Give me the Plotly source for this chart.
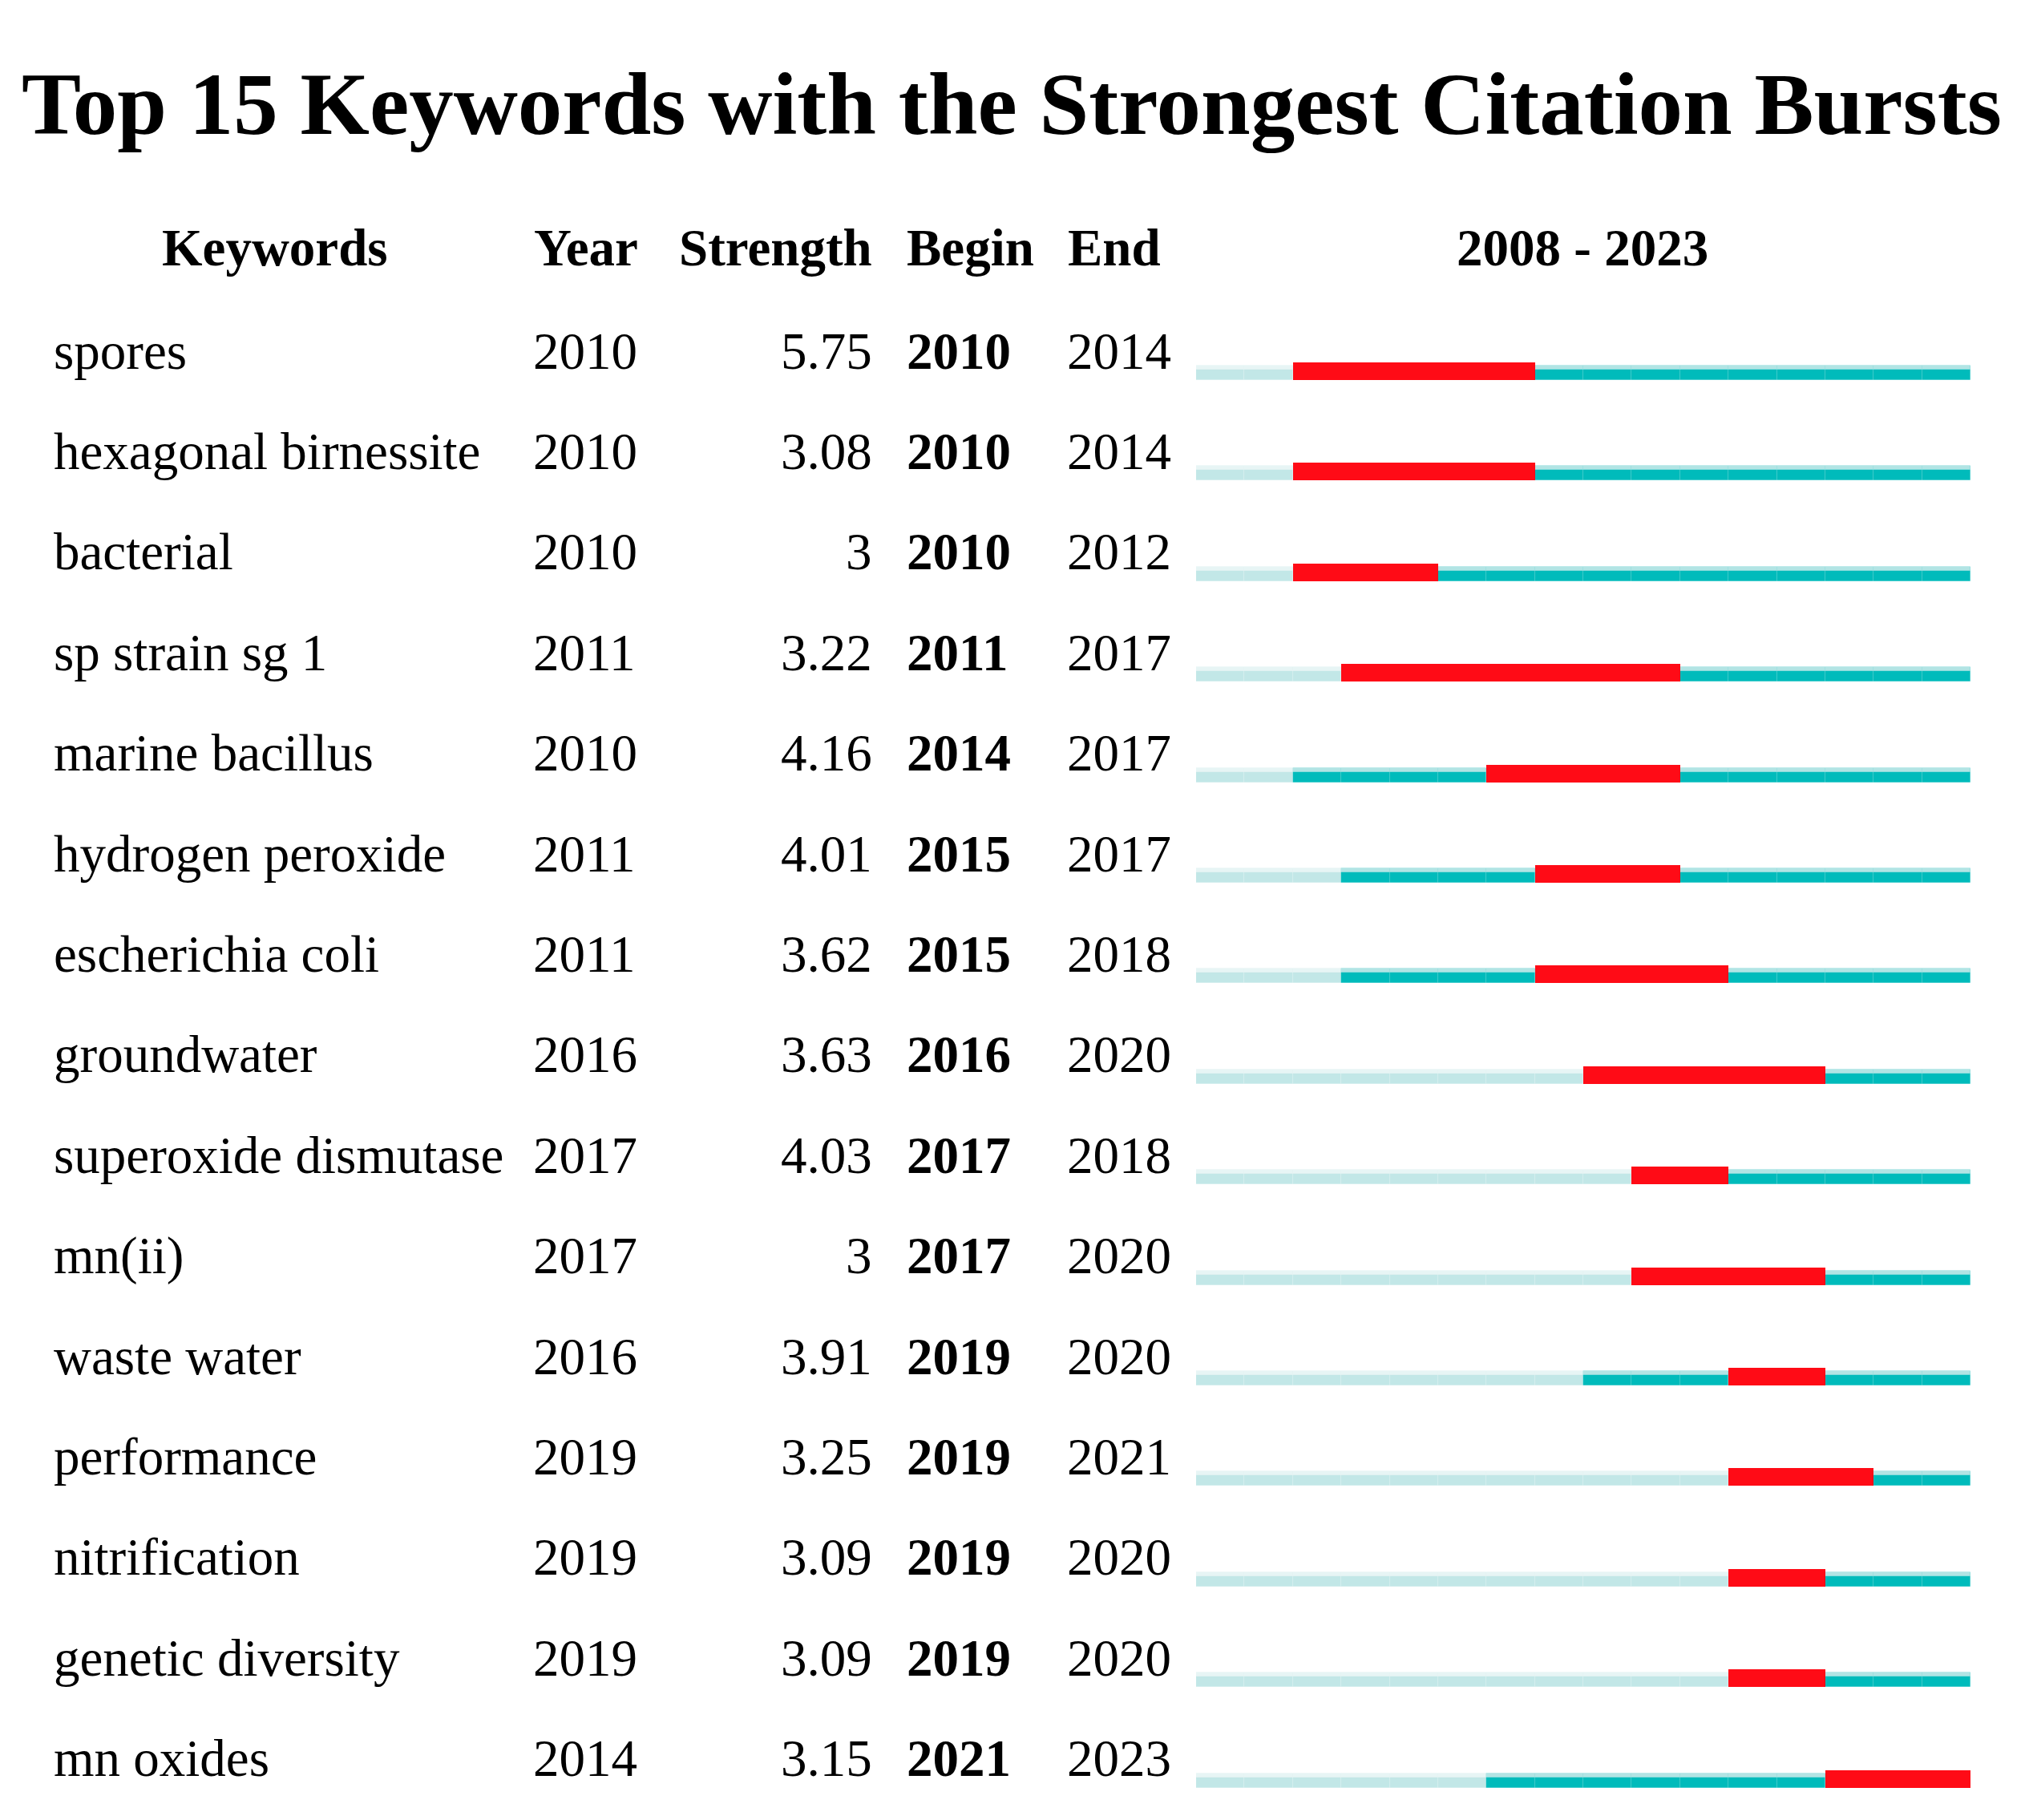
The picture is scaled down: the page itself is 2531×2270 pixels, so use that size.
import plotly.graph_objects as go

keywords = ["spores", "hexagonal birnessite", "bacterial", "sp strain sg 1", "marine bacillus",
            "hydrogen peroxide", "escherichia coli", "groundwater", "superoxide dismutase", "mn(ii)",
            "waste water", "performance", "nitrification", "genetic diversity", "mn oxides"]
years = [2010, 2010, 2010, 2011, 2010, 2011, 2011, 2016, 2017, 2017, 2016, 2019, 2019, 2019, 2014]
strengths = ["5.75", "3.08", "3", "3.22", "4.16", "4.01", "3.62", "3.63", "4.03", "3", "3.91", "3.25", "3.09", "3.09", "3.15"]
begins = [2010, 2010, 2010, 2011, 2014, 2015, 2015, 2016, 2017, 2017, 2019, 2019, 2019, 2019, 2021]
ends = [2014, 2014, 2012, 2017, 2017, 2017, 2018, 2020, 2018, 2020, 2020, 2021, 2020, 2020, 2023]
start_year, end_year = 2008, 2023
title_text = "Top 15 Keywords with the Strongest Citation Bursts"
headers = ["Keywords", "Year", "Strength", "Begin", "End"]

W, H = 2531, 2270
ROW0, ROWH = 437.5, 125.4  # pixel centre of first text row, row pitch
FONT = "Liberation Serif, Times New Roman, serif"
FS = 65

def px(x):
    return x / W

def ypx(p):
    return (p - ROW0) / ROWH

# classify each year-cell
cells = {"pale": [], "teal": [], "red": []}
for i in range(len(keywords)):
    for yr in range(start_year, end_year + 1):
        if begins[i] <= yr <= ends[i]:
            cells["red"].append((i, yr))
        elif yr < years[i]:
            cells["pale"].append((i, yr))
        else:
            cells["teal"].append((i, yr))

fig = go.Figure()

def add_cells(key, color, off, width, line_col, lw=0.6):
    pts = cells[key]
    fig.add_trace(go.Bar(
        orientation="h",
        y=[p[0] + off for p in pts],
        base=[p[1] for p in pts],
        x=[1] * len(pts),
        width=width,
        marker=dict(color=color, line=dict(color=line_col, width=lw)),
        hoverinfo="skip",
        showlegend=False,
    ))

# main bodies
add_cells("pale", "#c2e7e7", (465 - ROW0) / ROWH, 18 / ROWH, "rgba(255,255,255,0.18)")
add_cells("teal", "#00bbbb", (465 - ROW0) / ROWH, 18 / ROWH, "rgba(255,255,255,0.08)")
# lighter top strips
add_cells("pale", "#e7f5f5", (458.5 - ROW0) / ROWH, 5 / ROWH, "rgba(255,255,255,0.15)")
add_cells("teal", "#b2e4e4", (458.5 - ROW0) / ROWH, 5 / ROWH, "rgba(255,255,255,0.08)")
# burst
add_cells("red", "#ff0b16", (463 - ROW0) / ROWH, 22 / ROWH, "#ff0b16", lw=0)

annotations = []

def txt(text, x, yval, anchor="left", bold=False, size=FS, yref="y"):
    annotations.append(dict(
        text=f"<b>{text}</b>" if bold else text,
        x=px(x), xref="paper", y=yval, yref=yref,
        xanchor=anchor, yanchor="middle", showarrow=False,
        font=dict(family=FONT, size=size, color="black"),
    ))

for i in range(len(keywords)):
    yv = i
    txt(keywords[i], 65, yv)
    txt(str(years[i]), 663, yv)
    txt(strengths[i], 1090, yv, anchor="right")
    txt(str(begins[i]), 1129, yv, bold=True)
    txt(str(ends[i]), 1329, yv)

hy = ypx(309)
txt(headers[0], 343, hy, anchor="center", bold=True)
txt(headers[1], 664, hy, bold=True)
txt(headers[2], 1090, hy, anchor="right", bold=True)
txt(headers[3], 1129, hy, bold=True)
txt(headers[4], 1330, hy, bold=True)
txt(f"{start_year} - {end_year}", 1974, hy, anchor="center", bold=True)

txt(title_text, 1262, ypx(129), anchor="center", bold=True, size=111)

fig.update_layout(
    width=W, height=H,
    margin=dict(l=0, r=0, t=0, b=0),
    paper_bgcolor="white", plot_bgcolor="white",
    barmode="overlay",
    bargap=0,
    xaxis=dict(domain=[px(1492), px(2458)], range=[start_year, end_year + 1],
               visible=False, fixedrange=True),
    yaxis=dict(domain=[0, 1], range=[ypx(H), ypx(0)], visible=False, fixedrange=True),
    annotations=annotations,
)

fig.write_html("out.html", config={"displayModeBar": False},
               post_script="document.body.style.margin='0px';document.body.style.overflow='hidden';")
